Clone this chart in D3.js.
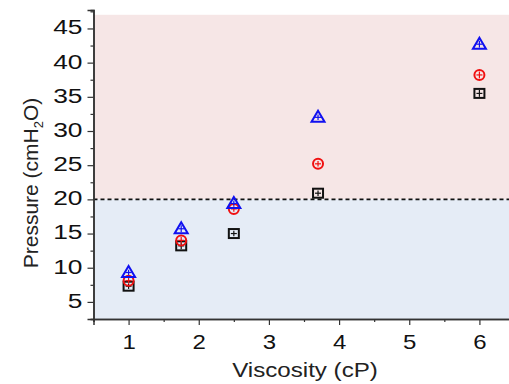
<!DOCTYPE html>
<meta charset="utf-8">
<script src="https://d3js.org/d3.v7.min.js"></script>
<style>
  body { margin: 0; background: #fff; font-family: "Liberation Sans", Arial, sans-serif; }
  svg { display: block; }
</style>
<body>
<div id="chart"></div>
<script>

// data
var viscosity = [1, 1.75, 2.5, 3.7, 6];
var squareVals = [7.3, 13.2, 15.0, 20.9, 35.5];
var circleVals = [8.1, 14.0, 18.6, 25.2, 38.2];
var triangleVals = [9.3, 15.7, 19.4, 32.0, 42.7];
var errVals = [0.4, 0.5, 0.4, 0.4, 0.5];
var xTicks = [1, 2, 3, 4, 5, 6];
var yTicks = [5, 10, 15, 20, 25, 30, 35, 40, 45];
var threshold = 20;

var W = 509, H = 384;
var plotLeft = 93.5, plotTop = 10, plotBottom = 319, plotRight = 514.5;

var svg = d3.select("#chart").append("svg")
    .attr("width", W)
    .attr("height", H);

var x = d3.scaleLinear().domain([0.5, 6.5]).range([plotLeft, plotRight]);
var y = d3.scaleLinear().domain([2.5, 47.7]).range([plotBottom, plotTop]);

// background bands
svg.append("rect")
    .attr("x", plotLeft).attr("y", y(47))
    .attr("width", plotRight - plotLeft).attr("height", y(threshold) - y(47))
    .attr("fill", "#f6e6e6");
svg.append("rect")
    .attr("x", plotLeft).attr("y", y(threshold))
    .attr("width", plotRight - plotLeft).attr("height", plotBottom - y(threshold))
    .attr("fill", "#e5ecf6");

// threshold line
svg.append("line")
    .attr("x1", plotLeft).attr("x2", plotRight)
    .attr("y1", y(threshold)).attr("y2", y(threshold))
    .attr("stroke", "#111")
    .attr("stroke-width", 1.6)
    .attr("stroke-dasharray", "4,3");

// axes
var xAxis = svg.append("g")
    .attr("transform", "translate(0," + plotBottom + ")")
    .call(d3.axisBottom(x).tickValues(xTicks).tickSize(6).tickPadding(10).tickFormat(d3.format("d")));
var xMinor = svg.append("g")
    .attr("transform", "translate(0," + plotBottom + ")")
    .call(d3.axisBottom(x).tickValues([0.5, 1.5, 2.5, 3.5, 4.5, 5.5, 6.5]).tickSize(3).tickFormat(""));
var yAxis = svg.append("g")
    .attr("transform", "translate(" + plotLeft + ",0)")
    .call(d3.axisLeft(y).tickValues(yTicks).tickSize(6).tickPadding(5));
var yMinor = svg.append("g")
    .attr("transform", "translate(" + plotLeft + ",0)")
    .call(d3.axisLeft(y).tickValues(d3.range(2.5, 47.6, 5)).tickSize(3).tickFormat(""));

[xAxis, xMinor, yAxis, yMinor].forEach(function(g) {
  g.select(".domain").attr("stroke", "#333").attr("stroke-width", 1.5);
  g.selectAll(".tick line").attr("stroke", "#333").attr("stroke-width", 1.2);
  g.selectAll("text")
    .attr("fill", "#111")
    .style("font-family", "'Liberation Sans', Arial, sans-serif")
    .style("font-size", "20px");
});

// the original labels look a bit wide, stretch them sideways
xAxis.selectAll(".tick text").attr("transform", "scale(1.2,1)");
yAxis.selectAll(".tick text")
    .attr("x", 0)
    .attr("dy", "0.32em")
    .attr("transform", "translate(-11,-1) scale(1.32,1)");

// axis titles
svg.append("text")
    .attr("transform", "translate(305,377) scale(1.15,1)")
    .attr("text-anchor", "middle")
    .style("font-size", "21px")
    .attr("fill", "#222")
    .text("Viscosity (cP)");

var yt = svg.append("text")
    .attr("transform", "translate(38,183) rotate(-90)")
    .attr("text-anchor", "middle")
    .style("font-size", "21px")
    .attr("fill", "#222");
yt.append("tspan").text("Pressure (cmH");
yt.append("tspan").attr("dy", 5).style("font-size", "13px").text("2");
yt.append("tspan").attr("dy", -5).text("O)");

// error bars + markers
function errBars(vals, color) {
  var g = svg.append("g").attr("stroke", color).attr("stroke-width", 1.2);
  vals.forEach(function(v, i) {
    var cx = x(viscosity[i]);
    g.append("line").attr("x1", cx).attr("x2", cx)
      .attr("y1", y(v - errVals[i])).attr("y2", y(v + errVals[i]));
    g.append("line").attr("x1", cx - 3).attr("x2", cx + 3)
      .attr("y1", y(v)).attr("y2", y(v));
  });
}

errBars(squareVals, "#111");
svg.append("g").selectAll("rect")
  .data(squareVals)
  .enter()
  .append("rect")
    .attr("x", function(d, i) { return x(viscosity[i]) - 5; })
    .attr("y", function(d) { return y(d) - 4.5; })
    .attr("width", 10).attr("height", 9)
    .attr("fill", "none")
    .attr("stroke", "#111")
    .attr("stroke-width", 2);

errBars(circleVals, "#f01010");
svg.append("g").selectAll("circle")
  .data(circleVals)
  .enter()
  .append("circle")
    .attr("cx", function(d, i) { return x(viscosity[i]); })
    .attr("cy", function(d) { return y(d); })
    .attr("r", 5)
    .attr("fill", "none")
    .attr("stroke", "#f01010")
    .attr("stroke-width", 2);

errBars(triangleVals, "#1010f0");
svg.append("g").selectAll("path")
  .data(triangleVals)
  .enter()
  .append("path")
    .attr("d", function(d, i) {
      var cx = x(viscosity[i]), cy = y(d);
      return "M" + cx + "," + (cy - 6.5) + "L" + (cx + 6.5) + "," + (cy + 4.5) + "L" + (cx - 6.5) + "," + (cy + 4.5) + "Z";
    })
    .attr("fill", "none")
    .attr("stroke", "#1010f0")
    .attr("stroke-width", 2);

</script>
</body>
